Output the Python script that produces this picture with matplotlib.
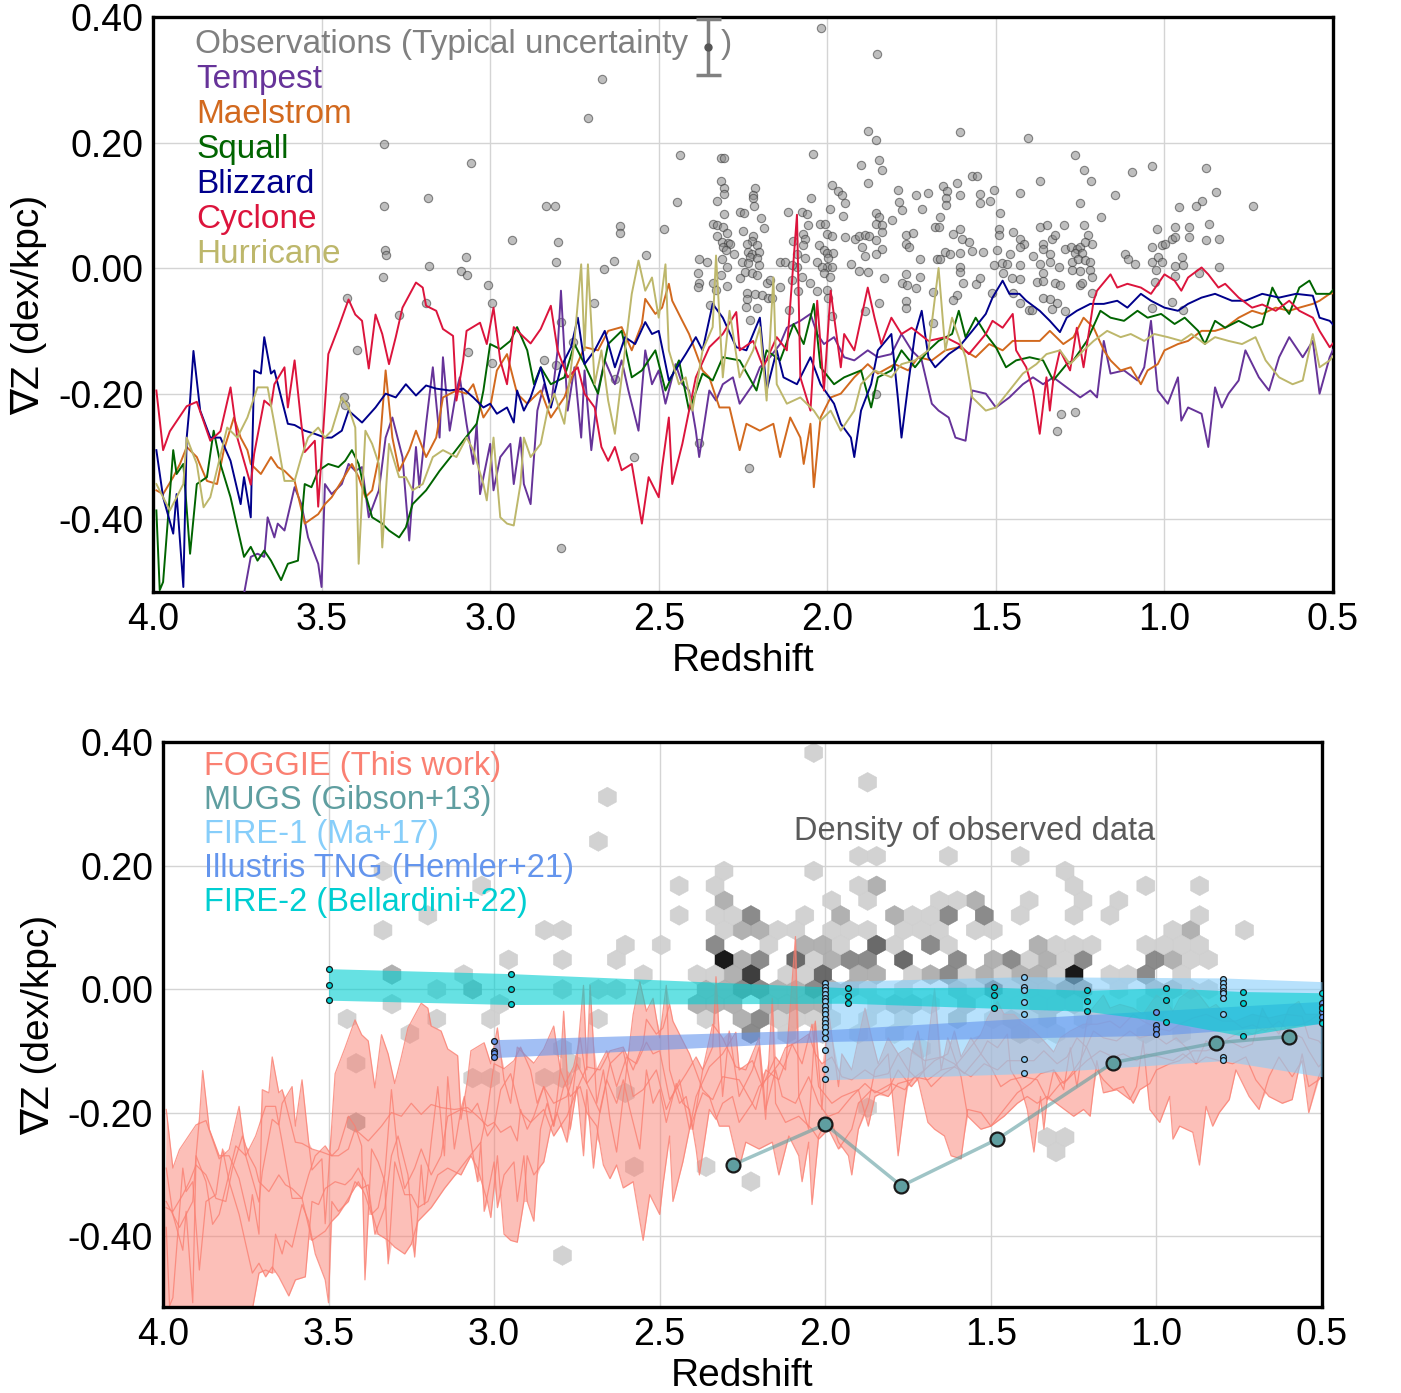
import numpy as np
import matplotlib
matplotlib.use("Agg")
import matplotlib.pyplot as plt
from matplotlib.colors import ListedColormap
from matplotlib.ticker import FormatStrFormatter

plt.rcParams['font.family'] = ['Liberation Sans', 'DejaVu Sans']
plt.rcParams['axes.unicode_minus'] = False

# ---- FOGGIE halos: (redshift, gradient dex/kpc)
tempest = np.array([
    (4.0, -0.58), (3.85, -0.6), (3.76, -0.56), (3.73, -0.519), (3.71, -0.46), (3.69, -0.455), (3.67, -0.46),
    (3.66, -0.397), (3.64, -0.429), (3.63, -0.407), (3.61, -0.418), (3.58, -0.349), (3.56, -0.376), (3.54, -0.429),
    (3.51, -0.471), (3.50, -0.508), (3.49, -0.344), (3.47, -0.36), (3.44, -0.344), (3.42, -0.312), (3.40, -0.323),
    (3.38, -0.317), (3.36, -0.397), (3.33, -0.354), (3.31, -0.27), (3.29, -0.238), (3.26, -0.301), (3.24, -0.434),
    (3.22, -0.285), (3.21, -0.349), (3.19, -0.248), (3.17, -0.158), (3.15, -0.27), (3.14, -0.142), (3.12, -0.259),
    (3.10, -0.195), (3.09, -0.174), (3.07, -0.248), (3.05, -0.312), (3.04, -0.248), (3.03, -0.36), (3.00, -0.28),
    (2.99, -0.354), (2.97, -0.301), (2.94, -0.28), (2.93, -0.344), (2.91, -0.27), (2.90, -0.344), (2.88, -0.376),
    (2.86, -0.227), (2.84, -0.185), (2.82, -0.222), (2.80, -0.131), (2.79, -0.036), (2.77, -0.227), (2.75, -0.158),
    (2.73, -0.27), (2.72, -0.163), (2.70, -0.29), (2.68, -0.195), (2.66, -0.147), (2.63, -0.185), (2.61, -0.147),
    (2.59, -0.195), (2.56, -0.259), (2.54, -0.131), (2.52, -0.185), (2.50, -0.163), (2.48, -0.216), (2.45, -0.153),
    (2.43, -0.185), (2.41, -0.195), (2.39, -0.259), (2.38, -0.301), (2.35, -0.195), (2.33, -0.211), (2.31, -0.185),
    (2.28, -0.174), (2.26, -0.216), (2.22, -0.185), (2.20, -0.158), (2.17, -0.142), (2.14, -0.121), (2.12, -0.095),
    (2.08, -0.084), (2.05, -0.073), (2.03, -0.105), (2.01, -0.121), (1.98, -0.11), (1.95, -0.142), (1.92, -0.147),
    (1.88, -0.131), (1.85, -0.142), (1.81, -0.137), (1.78, -0.105), (1.75, -0.131), (1.72, -0.147), (1.69, -0.216),
    (1.67, -0.227), (1.64, -0.238), (1.62, -0.27), (1.59, -0.275), (1.57, -0.195), (1.53, -0.2), (1.50, -0.222),
    (1.46, -0.206), (1.42, -0.185), (1.39, -0.174), (1.36, -0.185), (1.33, -0.174), (1.29, -0.19), (1.25, -0.206),
    (1.22, -0.195), (1.20, -0.206), (1.18, -0.116), (1.16, -0.168), (1.12, -0.163), (1.08, -0.179), (1.06, -0.158),
    (1.04, -0.084), (1.02, -0.195), (0.99, -0.216), (0.96, -0.174), (0.95, -0.243), (0.93, -0.222), (0.89, -0.232),
    (0.87, -0.285), (0.85, -0.19), (0.83, -0.222), (0.81, -0.2), (0.78, -0.179), (0.76, -0.131), (0.72, -0.174),
    (0.69, -0.195), (0.66, -0.142), (0.63, -0.11), (0.59, -0.142), (0.56, -0.116), (0.54, -0.2), (0.51, -0.142),
    (0.50, -0.13)])

maelstrom = np.array([
    (3.99, -0.354), (3.97, -0.36), (3.94, -0.333), (3.92, -0.312), (3.90, -0.285), (3.87, -0.301), (3.84, -0.339),
    (3.81, -0.344), (3.79, -0.29), (3.76, -0.238), (3.74, -0.27), (3.72, -0.29), (3.71, -0.312), (3.68, -0.328),
    (3.65, -0.301), (3.63, -0.317), (3.61, -0.323), (3.58, -0.339), (3.55, -0.407), (3.51, -0.392), (3.49, -0.376),
    (3.47, -0.365), (3.44, -0.339), (3.41, -0.312), (3.39, -0.333), (3.37, -0.365), (3.35, -0.354), (3.33, -0.301),
    (3.31, -0.163), (3.29, -0.27), (3.27, -0.323), (3.24, -0.29), (3.22, -0.259), (3.19, -0.301), (3.16, -0.27),
    (3.14, -0.206), (3.10, -0.195), (3.07, -0.2), (3.05, -0.185), (3.02, -0.238), (3.00, -0.222), (2.98, -0.163),
    (2.95, -0.137), (2.92, -0.2), (2.89, -0.216), (2.85, -0.195), (2.82, -0.238), (2.78, -0.206), (2.75, -0.163),
    (2.72, -0.126), (2.68, -0.131), (2.65, -0.1), (2.61, -0.094), (2.58, -0.131), (2.55, -0.089), (2.54, -0.049),
    (2.51, -0.073), (2.49, -0.063), (2.47, -0.025), (2.46, -0.052), (2.43, -0.084), (2.41, -0.105), (2.37, -0.163),
    (2.35, -0.174), (2.32, -0.222), (2.29, -0.222), (2.26, -0.29), (2.24, -0.248), (2.20, -0.259), (2.16, -0.248),
    (2.14, -0.301), (2.11, -0.238), (2.08, -0.27), (2.07, -0.312), (2.05, -0.248), (2.04, -0.349), (2.02, -0.238),
    (1.99, -0.206), (1.96, -0.2), (1.92, -0.174), (1.88, -0.153), (1.85, -0.168), (1.80, -0.153), (1.76, -0.163),
    (1.73, -0.142), (1.69, -0.147), (1.65, -0.131), (1.61, -0.126), (1.56, -0.142), (1.52, -0.121), (1.48, -0.131),
    (1.45, -0.116), (1.41, -0.116), (1.37, -0.116), (1.34, -0.1), (1.30, -0.121), (1.27, -0.11), (1.24, -0.079),
    (1.21, -0.095), (1.18, -0.131), (1.16, -0.147), (1.13, -0.163), (1.10, -0.158), (1.07, -0.185), (1.05, -0.163),
    (1.02, -0.153), (1.00, -0.131), (0.96, -0.121), (0.93, -0.116), (0.89, -0.1), (0.85, -0.1), (0.82, -0.095),
    (0.78, -0.079), (0.74, -0.068), (0.71, -0.073), (0.67, -0.063), (0.63, -0.068), (0.60, -0.063), (0.56, -0.057),
    (0.54, -0.052), (0.51, -0.041), (0.50, -0.04)])

squall = np.array([
    (3.99, -0.386), (3.98, -0.513), (3.97, -0.5), (3.94, -0.29), (3.93, -0.328), (3.91, -0.312), (3.89, -0.455),
    (3.87, -0.344), (3.84, -0.333), (3.82, -0.259), (3.80, -0.312), (3.77, -0.365), (3.75, -0.413), (3.73, -0.46),
    (3.71, -0.444), (3.69, -0.466), (3.67, -0.45), (3.65, -0.466), (3.62, -0.497), (3.60, -0.471), (3.57, -0.466),
    (3.55, -0.344), (3.53, -0.349), (3.51, -0.323), (3.48, -0.312), (3.45, -0.317), (3.43, -0.307), (3.41, -0.29),
    (3.39, -0.312), (3.37, -0.36), (3.35, -0.397), (3.32, -0.407), (3.30, -0.418), (3.27, -0.429), (3.25, -0.413),
    (3.23, -0.376), (3.19, -0.354), (3.15, -0.323), (3.11, -0.296), (3.08, -0.275), (3.04, -0.248), (3.02, -0.195),
    (3.00, -0.121), (2.97, -0.129), (2.94, -0.116), (2.92, -0.094), (2.89, -0.131), (2.87, -0.185), (2.85, -0.158),
    (2.82, -0.185), (2.78, -0.174), (2.75, -0.121), (2.72, -0.153), (2.68, -0.2), (2.65, -0.121), (2.61, -0.1),
    (2.58, -0.174), (2.55, -0.163), (2.51, -0.131), (2.48, -0.195), (2.44, -0.147), (2.41, -0.227), (2.37, -0.168),
    (2.34, -0.179), (2.31, -0.142), (2.26, -0.147), (2.21, -0.195), (2.18, -0.131), (2.14, -0.147), (2.10, -0.089),
    (2.07, -0.121), (2.04, -0.057), (2.02, -0.158), (1.98, -0.185), (1.95, -0.174), (1.90, -0.163), (1.87, -0.222),
    (1.85, -0.174), (1.81, -0.163), (1.78, -0.131), (1.74, -0.158), (1.70, -0.131), (1.67, -0.116), (1.63, -0.105),
    (1.61, -0.068), (1.59, -0.11), (1.56, -0.079), (1.53, -0.105), (1.50, -0.126), (1.47, -0.158), (1.44, -0.147),
    (1.40, -0.142), (1.36, -0.147), (1.33, -0.179), (1.29, -0.153), (1.27, -0.147), (1.23, -0.116), (1.19, -0.068),
    (1.16, -0.079), (1.12, -0.084), (1.08, -0.068), (1.05, -0.079), (1.01, -0.073), (0.97, -0.089), (0.94, -0.079),
    (0.90, -0.1), (0.88, -0.121), (0.85, -0.084), (0.82, -0.095), (0.78, -0.084), (0.74, -0.095), (0.71, -0.089),
    (0.68, -0.031), (0.66, -0.052), (0.63, -0.073), (0.60, -0.031), (0.57, -0.02), (0.55, -0.041), (0.51, -0.041),
    (0.50, -0.035)])

blizzard = np.array([
    (3.99, -0.29), (3.97, -0.365), (3.94, -0.423), (3.93, -0.36), (3.91, -0.508), (3.90, -0.27), (3.89, -0.211),
    (3.88, -0.132), (3.86, -0.227), (3.83, -0.27), (3.80, -0.27), (3.77, -0.307), (3.74, -0.376), (3.73, -0.333),
    (3.71, -0.397), (3.70, -0.163), (3.68, -0.168), (3.67, -0.11), (3.65, -0.168), (3.64, -0.163), (3.60, -0.248),
    (3.58, -0.25), (3.55, -0.259), (3.52, -0.264), (3.49, -0.27), (3.47, -0.27), (3.44, -0.259), (3.42, -0.227),
    (3.38, -0.246), (3.34, -0.222), (3.31, -0.2), (3.28, -0.206), (3.25, -0.185), (3.22, -0.203), (3.19, -0.187),
    (3.16, -0.192), (3.12, -0.195), (3.08, -0.192), (3.05, -0.206), (3.02, -0.222), (3.00, -0.216), (2.98, -0.232),
    (2.95, -0.222), (2.93, -0.246), (2.92, -0.195), (2.90, -0.227), (2.88, -0.206), (2.85, -0.158), (2.82, -0.222),
    (2.79, -0.158), (2.76, -0.126), (2.74, -0.079), (2.72, -0.153), (2.69, -0.131), (2.66, -0.1), (2.63, -0.158),
    (2.60, -0.11), (2.57, -0.121), (2.54, -0.086), (2.52, -0.105), (2.50, -0.1), (2.47, -0.179), (2.42, -0.137),
    (2.39, -0.11), (2.37, -0.131), (2.34, -0.057), (2.31, -0.079), (2.27, -0.126), (2.24, -0.131), (2.20, -0.079),
    (2.18, -0.195), (2.15, -0.131), (2.13, -0.174), (2.09, -0.185), (2.05, -0.142), (2.02, -0.185), (1.98, -0.216),
    (1.96, -0.248), (1.93, -0.27), (1.92, -0.301), (1.90, -0.227), (1.87, -0.185), (1.85, -0.131), (1.81, -0.105),
    (1.79, -0.211), (1.78, -0.27), (1.76, -0.185), (1.74, -0.105), (1.72, -0.068), (1.70, -0.142), (1.68, -0.158),
    (1.64, -0.137), (1.61, -0.126), (1.57, -0.1), (1.53, -0.073), (1.51, -0.047), (1.48, -0.02), (1.46, -0.041),
    (1.43, -0.041), (1.41, -0.052), (1.37, -0.068), (1.34, -0.084), (1.31, -0.102), (1.29, -0.079), (1.26, -0.068),
    (1.22, -0.057), (1.18, -0.057), (1.14, -0.052), (1.11, -0.063), (1.07, -0.041), (1.04, -0.052), (1.00, -0.063),
    (0.96, -0.068), (0.93, -0.057), (0.89, -0.047), (0.85, -0.041), (0.80, -0.052), (0.76, -0.052), (0.71, -0.041),
    (0.66, -0.047), (0.61, -0.041), (0.56, -0.044), (0.54, -0.079), (0.51, -0.084), (0.50, -0.09)])

cyclone = np.array([
    (3.99, -0.195), (3.97, -0.29), (3.95, -0.26), (3.90, -0.22), (3.87, -0.213), (3.83, -0.275), (3.80, -0.26),
    (3.77, -0.19), (3.75, -0.27), (3.71, -0.345), (3.70, -0.296), (3.67, -0.211), (3.65, -0.22), (3.64, -0.185),
    (3.61, -0.158), (3.60, -0.222), (3.58, -0.147), (3.56, -0.248), (3.55, -0.293), (3.52, -0.275), (3.51, -0.38),
    (3.48, -0.137), (3.45, -0.095), (3.42, -0.05), (3.40, -0.074), (3.38, -0.084), (3.36, -0.16), (3.34, -0.074),
    (3.32, -0.105), (3.30, -0.153), (3.28, -0.11), (3.26, -0.063), (3.22, -0.023), (3.20, -0.031), (3.19, -0.06),
    (3.16, -0.068), (3.14, -0.097), (3.11, -0.108), (3.10, -0.211), (3.08, -0.147), (3.07, -0.1), (3.03, -0.087),
    (3.01, -0.121), (2.99, -0.063), (2.97, -0.147), (2.95, -0.185), (2.93, -0.094), (2.90, -0.11), (2.88, -0.12),
    (2.85, -0.097), (2.82, -0.06), (2.80, -0.131), (2.77, -0.174), (2.74, -0.158), (2.72, -0.2), (2.69, -0.222),
    (2.67, -0.285), (2.65, -0.307), (2.63, -0.285), (2.61, -0.322), (2.58, -0.312), (2.55, -0.407), (2.53, -0.333),
    (2.50, -0.365), (2.49, -0.317), (2.47, -0.238), (2.46, -0.344), (2.43, -0.28), (2.41, -0.227), (2.39, -0.174),
    (2.35, -0.126), (2.31, -0.105), (2.27, -0.07), (2.26, -0.131), (2.22, -0.116), (2.19, -0.158), (2.15, -0.11),
    (2.12, -0.131), (2.09, 0.085), (2.08, -0.174), (2.05, -0.227), (2.03, -0.052), (2.01, -0.195), (1.99, -0.036),
    (1.96, -0.158), (1.95, -0.105), (1.92, -0.131), (1.88, -0.031), (1.86, -0.079), (1.84, -0.121), (1.81, -0.079),
    (1.78, -0.105), (1.75, -0.095), (1.70, -0.116), (1.65, -0.11), (1.61, -0.121), (1.58, -0.137), (1.53, -0.105),
    (1.51, -0.084), (1.48, -0.095), (1.45, -0.073), (1.44, -0.131), (1.41, -0.158), (1.39, -0.195), (1.37, -0.264),
    (1.35, -0.174), (1.34, -0.227), (1.33, -0.179), (1.31, -0.131), (1.28, -0.163), (1.26, -0.095), (1.24, -0.158),
    (1.21, -0.052), (1.20, -0.036), (1.16, -0.01), (1.14, -0.031), (1.11, -0.025), (1.07, -0.031), (1.04, -0.041),
    (1.00, -0.01), (0.97, -0.02), (0.95, -0.036), (0.93, -0.015), (0.89, 0.001), (0.87, -0.01), (0.84, -0.031),
    (0.82, -0.025), (0.78, -0.047), (0.74, -0.063), (0.71, -0.058), (0.67, -0.068), (0.63, -0.052), (0.60, -0.068),
    (0.56, -0.079), (0.54, -0.1), (0.51, -0.126), (0.50, -0.12)])

hurricane = np.array([
    (3.99, -0.344), (3.95, -0.386), (3.91, -0.344), (3.90, -0.27), (3.87, -0.312), (3.85, -0.381), (3.83, -0.365),
    (3.78, -0.254), (3.75, -0.27), (3.72, -0.238), (3.69, -0.19), (3.66, -0.19), (3.64, -0.248), (3.61, -0.339),
    (3.58, -0.339), (3.56, -0.301), (3.54, -0.27), (3.51, -0.254), (3.49, -0.27), (3.47, -0.259), (3.44, -0.206),
    (3.42, -0.222), (3.40, -0.254), (3.39, -0.471), (3.37, -0.259), (3.35, -0.28), (3.33, -0.312), (3.32, -0.445),
    (3.30, -0.28), (3.27, -0.333), (3.25, -0.333), (3.23, -0.354), (3.20, -0.344), (3.17, -0.301), (3.14, -0.29),
    (3.10, -0.301), (3.07, -0.27), (3.05, -0.29), (3.02, -0.344), (3.01, -0.37), (2.99, -0.27), (2.97, -0.397),
    (2.95, -0.407), (2.93, -0.41), (2.91, -0.344), (2.90, -0.27), (2.88, -0.301), (2.85, -0.28), (2.83, -0.227),
    (2.81, -0.2), (2.78, -0.248), (2.76, -0.158), (2.75, -0.116), (2.73, 0.006), (2.72, -0.131), (2.71, 0.006),
    (2.69, -0.185), (2.67, -0.131), (2.65, -0.211), (2.63, -0.264), (2.60, -0.131), (2.58, -0.041), (2.56, 0.012),
    (2.54, -0.036), (2.52, -0.015), (2.50, -0.079), (2.48, 0.006), (2.47, -0.131), (2.44, -0.185), (2.42, -0.174),
    (2.40, -0.227), (2.37, -0.131), (2.34, -0.094), (2.33, 0.02), (2.31, -0.174), (2.29, -0.068), (2.26, -0.174),
    (2.22, -0.131), (2.20, -0.094), (2.18, -0.211), (2.16, -0.015), (2.15, -0.185), (2.12, -0.216), (2.08, -0.206),
    (2.04, -0.227), (2.02, -0.243), (1.99, -0.227), (1.96, -0.259), (1.92, -0.227), (1.90, -0.185), (1.86, -0.163),
    (1.81, -0.174), (1.78, -0.153), (1.74, -0.147), (1.70, -0.131), (1.67, 0.0), (1.65, -0.131), (1.63, -0.079),
    (1.59, -0.142), (1.57, -0.206), (1.53, -0.227), (1.50, -0.222), (1.46, -0.195), (1.42, -0.168), (1.38, -0.153),
    (1.35, -0.137), (1.31, -0.131), (1.28, -0.153), (1.24, -0.131), (1.21, -0.116), (1.17, -0.1), (1.13, -0.11),
    (1.10, -0.105), (1.06, -0.116), (1.03, -0.105), (0.99, -0.11), (0.95, -0.116), (0.92, -0.105), (0.88, -0.121),
    (0.85, -0.11), (0.81, -0.116), (0.77, -0.121), (0.73, -0.11), (0.70, -0.147), (0.66, -0.174), (0.62, -0.185),
    (0.59, -0.179), (0.56, -0.105), (0.54, -0.158), (0.51, -0.147), (0.50, -0.14)])

halo_names = ['Tempest', 'Maelstrom', 'Squall', 'Blizzard', 'Cyclone', 'Hurricane']
halo_colors = ['rebeccapurple', 'chocolate', 'darkgreen', 'darkblue', 'crimson', 'darkkhaki']

# ---- observed galaxies (redshift, gradient)
obs = np.array([
    (2.669, 0.301), (2.711, 0.239), (3.316, 0.197), (3.058, 0.167), (3.184, 0.111), (3.314, 0.099), (2.834, 0.099),
    (2.808, 0.099), (2.437, 0.180), (2.615, 0.067), (2.615, 0.056), (2.484, 0.063), (2.446, 0.106), (2.934, 0.044),
    (2.799, 0.042), (3.312, 0.029), (3.310, 0.021), (3.071, 0.018), (3.180, 0.004), (2.805, 0.010), (2.632, 0.012),
    (2.539, 0.021), (2.662, -0.001), (3.319, -0.014), (3.087, -0.004), (3.070, -0.011), (3.005, -0.027),
    (3.424, -0.047), (3.190, -0.056), (2.995, -0.056), (2.692, -0.055), (2.020, 0.383), (1.853, 0.341),
    (3.396, -0.130), (3.271, -0.074), (3.067, -0.133), (2.995, -0.151), (2.840, -0.146), (2.805, -0.155),
    (2.789, -0.086), (2.754, -0.117), (2.629, -0.176), (2.573, -0.301), (2.789, -0.446), (3.432, -0.205),
    (3.430, -0.218), (2.380, -0.279), (2.232, -0.319), (1.266, -0.230), (1.306, -0.232), (1.318, -0.260),
    (1.857, -0.200),
    (2.316, 0.175), (2.306, 0.176), (2.316, 0.138), (2.305, 0.128), (2.326, 0.107), (2.305, 0.118), (2.306, 0.086),
    (2.338, 0.070), (2.328, 0.069), (2.308, 0.066), (2.298, 0.056), (2.326, 0.051), (2.313, 0.042), (2.296, 0.040),
    (2.288, 0.039), (2.308, 0.033), (2.300, 0.029), (2.278, 0.022), (2.382, 0.014), (2.358, 0.009), (2.313, 0.014),
    (2.298, 0.001), (2.385, -0.008), (2.380, -0.024), (2.385, -0.030), (2.338, -0.024), (2.316, -0.011),
    (2.298, -0.028), (2.330, -0.035), (2.348, -0.059),
    (2.259, 0.090), (2.247, 0.088), (2.249, 0.059), (2.214, 0.128), (2.219, 0.116), (2.221, 0.111), (2.216, 0.099),
    (2.196, 0.080), (2.189, 0.064), (2.219, 0.051), (2.224, 0.043), (2.239, 0.038), (2.209, 0.037), (2.234, 0.026),
    (2.224, 0.023), (2.204, 0.026), (2.229, 0.018), (2.209, 0.016), (2.254, 0.009), (2.234, 0.008), (2.204, 0.005),
    (2.244, -0.006), (2.224, -0.008), (2.209, -0.011), (2.259, -0.015), (2.237, -0.039), (2.214, -0.042),
    (2.194, -0.043), (2.180, -0.023), (2.170, -0.019), (2.175, -0.047), (2.165, -0.048), (2.239, -0.049),
    (2.241, -0.062), (2.209, -0.063), (2.229, -0.083),
    (2.117, 0.090), (2.076, 0.090), (2.059, 0.086), (2.041, 0.182), (2.049, 0.112), (1.987, 0.132), (1.967, 0.123),
    (1.957, 0.116), (1.947, 0.103), (1.952, 0.083), (1.992, 0.094), (2.056, 0.069), (2.071, 0.054), (2.066, 0.047),
    (2.071, 0.037), (2.102, 0.043), (2.091, 0.022), (2.066, 0.016), (2.026, 0.037), (2.021, 0.071), (2.006, 0.071),
    (2.002, 0.055), (1.987, 0.051), (2.011, 0.029), (2.002, 0.024), (1.982, 0.024), (1.997, 0.016), (2.002, 0.002),
    (1.987, 0.002), (2.031, 0.010), (2.016, 0.002), (2.011, -0.008), (1.992, -0.014), (2.091, 0.002), (2.140, 0.010),
    (2.125, 0.010), (2.105, 0.005), (2.105, -0.019), (2.076, -0.014), (2.086, -0.037), (2.051, -0.024),
    (2.031, -0.037), (2.002, -0.035), (1.997, -0.048), (2.113, -0.067), (2.140, -0.030), (1.947, 0.049),
    (1.987, -0.077),
    (1.880, 0.219), (1.856, 0.204), (1.606, 0.217), (1.901, 0.164), (1.846, 0.172), (1.838, 0.156), (1.878, 0.136),
    (1.789, 0.124), (1.787, 0.106), (1.777, 0.093), (1.737, 0.117), (1.700, 0.119), (1.720, 0.094), (1.657, 0.131),
    (1.645, 0.123), (1.647, 0.111), (1.647, 0.100), (1.616, 0.136), (1.606, 0.116), (1.571, 0.146), (1.556, 0.147),
    (1.546, 0.118), (1.546, 0.103), (1.507, 0.124), (1.517, 0.107), (1.856, 0.087), (1.846, 0.082), (1.856, 0.071),
    (1.838, 0.069), (1.809, 0.077), (1.838, 0.058), (1.917, 0.047), (1.907, 0.051), (1.888, 0.053), (1.876, 0.051),
    (1.898, 0.034), (1.856, 0.044), (1.838, 0.031), (1.856, 0.022), (1.888, 0.020), (1.767, 0.053), (1.746, 0.056),
    (1.766, 0.039), (1.757, 0.034), (1.680, 0.066), (1.667, 0.081), (1.670, 0.066), (1.626, 0.055), (1.606, 0.062),
    (1.601, 0.047), (1.581, 0.042), (1.571, 0.028), (1.606, 0.024), (1.650, 0.025), (1.635, 0.022), (1.675, 0.014),
    (1.665, 0.014), (1.724, 0.014), (1.537, 0.025), (1.497, 0.029), (1.490, 0.062), (1.490, 0.053), (1.487, 0.087),
    (1.929, 0.006), (1.907, -0.004), (1.878, -0.007), (1.833, -0.016), (1.767, -0.009), (1.779, -0.023),
    (1.764, -0.027), (1.724, -0.014), (1.736, -0.032), (1.688, -0.038), (1.606, 0.002), (1.606, -0.006),
    (1.599, -0.023), (1.558, -0.025), (1.546, -0.015), (1.512, -0.039), (1.616, -0.043), (1.626, -0.051),
    (1.767, -0.052), (1.767, -0.064), (1.848, -0.056), (1.888, -0.068), (1.688, -0.088), (1.507, 0.005),
    (1.482, 0.008),
    (1.406, 0.208), (1.265, 0.180), (1.238, 0.156), (1.218, 0.138), (1.369, 0.139), (1.428, 0.119), (1.250, 0.104),
    (1.146, 0.117), (1.097, 0.153), (1.037, 0.162), (1.188, 0.082), (1.448, 0.058), (1.369, 0.066), (1.349, 0.069),
    (1.297, 0.068), (1.238, 0.068), (1.228, 0.053), (1.428, 0.047), (1.418, 0.039), (1.359, 0.039), (1.334, 0.047),
    (1.324, 0.053), (1.359, 0.031), (1.295, 0.030), (1.278, 0.033), (1.260, 0.030), (1.250, 0.033), (1.265, 0.024),
    (1.245, 0.024), (1.215, 0.038), (1.235, 0.042), (1.458, 0.022), (1.389, 0.020), (1.339, 0.022), (1.428, 0.034),
    (1.468, 0.006), (1.428, 0.005), (1.369, 0.007), (1.339, 0.010), (1.314, 0.002), (1.275, 0.010), (1.255, 0.014),
    (1.235, 0.013), (1.220, 0.010), (1.275, -0.003), (1.250, -0.004), (1.220, -0.003), (1.215, -0.014),
    (1.359, -0.008), (1.478, -0.008), (1.453, -0.016), (1.428, -0.018), (1.379, -0.022), (1.359, -0.020),
    (1.324, -0.024), (1.309, -0.027), (1.250, -0.027), (1.245, -0.024), (1.215, -0.040), (1.359, -0.048),
    (1.339, -0.049), (1.319, -0.056), (1.334, -0.065), (1.295, -0.068), (1.403, -0.067), (1.393, -0.067),
    (1.428, -0.055), (1.117, 0.022), (1.107, 0.014), (1.087, 0.006), (1.037, 0.033), (1.037, 0.009), (1.022, 0.063),
    (1.028, -0.022), (1.448, -0.040),
    (0.877, 0.160), (0.848, 0.122), (0.889, 0.107), (0.906, 0.099), (0.956, 0.097), (0.738, 0.099), (0.968, 0.066),
    (0.927, 0.066), (0.867, 0.071), (1.008, 0.037), (0.998, 0.038), (0.978, 0.046), (0.968, 0.049), (0.927, 0.049),
    (0.877, 0.044), (0.838, 0.047), (1.018, 0.017), (0.948, 0.018), (1.008, 0.009), (0.968, 0.004), (0.946, 0.005),
    (0.838, 0.001), (1.026, -0.003), (0.968, -0.013), (0.899, -0.008), (0.978, -0.054), (1.037, -0.064),
    (0.944, -0.066)])

# ---- other simulations
mugs_z = [2.28, 2.0, 1.77, 1.48, 1.13, 0.82, 0.60]
mugs_grad = [-0.285, -0.219, -0.319, -0.243, -0.119, -0.087, -0.077]

fire1_z = [2.0, 1.4, 0.8, 0.5]
fire1_hi = [0.012, 0.020, 0.018, 0.012]
fire1_lo = [-0.147, -0.137, -0.116, -0.142]
fire1_pts = {2.0: [0.010, 0.004, -0.002, -0.008, -0.014, -0.020, -0.027, -0.034, -0.041, -0.048, -0.055,
                   -0.062, -0.070, -0.080, -0.099, -0.130, -0.146],
             1.4: [0.019, 0.004, -0.002, -0.021, -0.040, -0.113, -0.136],
             0.8: [0.016, 0.009, 0.004, -0.003, -0.007, -0.015, -0.040, -0.110, -0.115]}

tng_z = [3.0, 2.0, 1.0, 0.5]
tng_hi = [-0.082, -0.066, -0.035, -0.020]
tng_lo = [-0.111, -0.085, -0.075, -0.056]
tng_pts = {3.0: [-0.084, -0.100, -0.104, -0.110],
           1.0: [-0.037, -0.058, -0.065, -0.072],
           0.5: [-0.023, -0.029, -0.037, -0.045, -0.053]}

fire2_z = [3.5, 2.95, 1.93, 1.49, 1.21, 0.97, 0.74, 0.5]
fire2_hi = [0.033, 0.025, 0.002, 0.003, -0.002, 0.002, -0.004, -0.006]
fire2_mid = [0.006, 0.0, -0.011, -0.010, -0.019, -0.017, -0.023, -0.030]
fire2_lo = [-0.018, -0.025, -0.023, -0.031, -0.036, -0.053, -0.076, -0.055]

sim_labels = ['FOGGIE (This work)', 'MUGS (Gibson+13)', 'FIRE-1 (Ma+17)',
              'Illustris TNG (Hemler+21)', 'FIRE-2 (Bellardini+22)']
sim_colors = ['salmon', 'cadetblue', 'lightskyblue', 'cornflowerblue', 'darkturquoise']

xticks = [4.0, 3.5, 3.0, 2.5, 2.0, 1.5, 1.0, 0.5]
yticks = [-0.4, -0.2, 0.0, 0.2, 0.4]


def style(ax, ylo):
    ax.set_xlim(4.0, 0.5)
    ax.set_ylim(ylo, 0.40)
    ax.set_xticks(xticks)
    ax.set_yticks(yticks)
    ax.xaxis.set_major_formatter(FormatStrFormatter('%.1f'))
    ax.yaxis.set_major_formatter(FormatStrFormatter('%.2f'))
    ax.grid(color='#d4d4d4', lw=1.0)
    ax.set_axisbelow(True)
    ax.tick_params(length=0, labelsize=27, pad=7)
    for s in ax.spines.values():
        s.set_linewidth(2.4)
        s.set_color('black')
    ax.set_xlabel('Redshift', fontsize=28, labelpad=4)
    ax.set_ylabel('∇Z (dex/kpc)', fontsize=28, labelpad=8)


fig = plt.figure(figsize=(14.01, 13.93), dpi=100)
ax1 = fig.add_axes([0.1092, 0.575, 0.8423, 0.4128])
ax2 = fig.add_axes([0.1163, 0.0617, 0.8273, 0.4056])
halos = [tempest, maelstrom, squall, blizzard, cyclone, hurricane]

# ---------------- top panel
style(ax1, -0.516)
ax1.scatter(obs[:, 0], obs[:, 1], s=36, c='#8a8a8a', alpha=0.55, edgecolors='#303030',
            linewidths=0.8, zorder=2)
for h, c in zip(halos, halo_colors):
    ax1.plot(h[:, 0], h[:, 1], color=c, lw=1.4, zorder=3)

ty = 0.953
ax1.text(0.0356, ty, 'Observations (Typical uncertainty', color='gray', fontsize=24,
         transform=ax1.transAxes, va='center')
ax1.text(0.481, ty, ')', color='gray', fontsize=24, transform=ax1.transAxes, va='center')
ax1.errorbar([2.354], [0.352], yerr=[0.045], fmt='o', color='gray', ms=5, mfc='#555555',
             mec='#555555', capsize=9, elinewidth=2.5, capthick=2.5, zorder=5)
for i, (n, c) in enumerate(zip(halo_names, halo_colors)):
    ax1.text(0.0365, ty - 0.0609 * (i + 1), n, color=c, fontsize=24,
             transform=ax1.transAxes, va='center')

# ---------------- bottom panel
style(ax2, -0.515)
greys = ListedColormap(plt.cm.Greys(np.linspace(0.3, 1.0, 256)))
sx, sy = 0.0542, 0.0479
x0, y0 = 2.0347 - 29 * sx, 0.3827 - 19 * sy
ax2.hexbin(obs[:, 0], obs[:, 1], gridsize=(66, 19), extent=(x0, x0 + 66 * sx, y0, y0 + 19 * sy),
           mincnt=1, cmap=greys, linewidths=0.4, alpha=0.9, zorder=1)

# envelope of the FOGGIE halos
grid = np.unique(np.concatenate([h[:, 0] for h in halos]))
stack = []
for h in halos:
    o = np.argsort(h[:, 0])
    stack.append(np.interp(grid, h[o, 0], h[o, 1], left=np.nan, right=np.nan))
stack = np.array(stack)
ax2.fill_between(grid, np.nanmin(stack, 0), np.nanmax(stack, 0), color='salmon', alpha=0.5,
                 lw=0, zorder=2)
for h in halos:
    ax2.plot(h[:, 0], h[:, 1], color='salmon', lw=0.9, alpha=0.8, zorder=2)

ax2.fill_between(fire1_z, fire1_lo, fire1_hi, color='lightskyblue', alpha=0.6, lw=0, zorder=3)
ax2.fill_between(tng_z, tng_lo, tng_hi, color='cornflowerblue', alpha=0.6, lw=0, zorder=3)
ax2.fill_between(fire2_z, fire2_lo, fire2_hi, color='darkturquoise', alpha=0.6, lw=0, zorder=3)

dot = dict(ls='none', marker='o', ms=4.2, mec='#1a1a1a', mew=0.9, zorder=4)
for z, vals in fire1_pts.items():
    ax2.plot([z] * len(vals), vals, mfc='lightskyblue', **dot)
for z, vals in tng_pts.items():
    ax2.plot([z] * len(vals), vals, mfc='cornflowerblue', **dot)
for z, a, b, c in zip(fire2_z, fire2_hi, fire2_mid, fire2_lo):
    ax2.plot([z, z, z], [a, b, c], mfc='darkturquoise', **dot)

ax2.plot(mugs_z, mugs_grad, color='cadetblue', lw=2.5, alpha=0.6, zorder=5)
ax2.plot(mugs_z, mugs_grad, ls='none', marker='o', ms=10, mfc='cadetblue', mec='#1a1a1a',
         mew=1.6, zorder=6)

for i, (n, c) in enumerate(zip(sim_labels, sim_colors)):
    ax2.text(0.0354, 0.956 - 0.0602 * i, n, color=c, fontsize=23.5,
             transform=ax2.transAxes, va='center', zorder=7)
ax2.text(0.700, 0.8425, 'Density of observed data', color='#5a5a5a', fontsize=23.5,
         transform=ax2.transAxes, ha='center', va='center', zorder=7)

fig.savefig('out.png', dpi=100)
